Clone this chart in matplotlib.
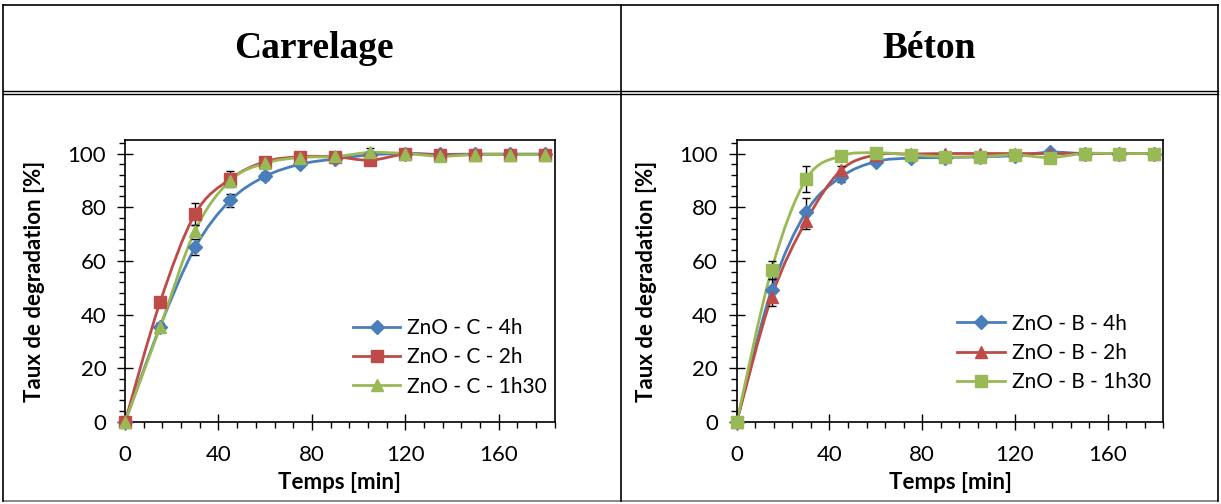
import numpy as np
import matplotlib.pyplot as plt
from matplotlib.path import Path
from matplotlib.patches import PathPatch
from matplotlib.lines import Line2D
from matplotlib.ticker import MultipleLocator

plt.rcParams['font.family'] = ['Lato', 'DejaVu Sans']

# Data
temps = [0, 15, 30, 45, 60, 75, 90, 105, 120, 135, 150, 165, 180]

carrelage_4h = [0, 35.5, 65, 82.5, 91.5, 96, 98, 99.5, 100, 99.7, 99.8, 99.8, 99.8]
carrelage_2h = [0, 44.6, 77.5, 90.5, 97, 98.8, 98.8, 97.5, 99.8, 99.5, 99.6, 99.6, 99.6]
carrelage_1h30 = [0, 35.3, 71.3, 89.9, 96.4, 98.5, 98.9, 100.4, 100, 99, 99.6, 99.6, 99.6]
carrelage_4h_err = [0, 1.5, 3, 2.5, 1.5, 1, 1, 0.5, 0.5, 0.5, 0.5, 0.5, 0.5]
carrelage_2h_err = [0, 1, 4, 3, 1, 1, 1, 1, 0.5, 0.5, 0.5, 0.5, 0.5]
carrelage_1h30_err = [0, 1.5, 2, 2, 1, 1, 1, 1.5, 0.5, 0.5, 0.5, 0.5, 0.5]

beton_4h = [0, 49.2, 78.3, 91.3, 97, 98.3, 98.5, 98.8, 99.2, 100.5, 100, 100, 100]
beton_2h = [0, 46.5, 75, 93.8, 99.5, 99.8, 100, 100, 100, 100, 100, 100, 100]
beton_1h30 = [0, 56.6, 90.5, 99.1, 100.3, 99.5, 98.8, 98.8, 99.5, 98.5, 100, 100, 100]
beton_4h_err = [0, 4, 5, 2, 1, 1, 1, 1, 1, 1, 0.5, 0.5, 0.5]
beton_2h_err = [0, 3.5, 3, 1.5, 0.5, 0.5, 0.5, 0.5, 0.5, 0.5, 0.5, 0.5, 0.5]
beton_1h30_err = [0, 3.5, 5, 1, 1, 1, 1, 1, 1, 1, 0.5, 0.5, 0.5]

blue = '#4A7EBB'
red = '#BE4B48'
green = '#98B954'


def smooth_path(x, y):
    # Excel-like smoothed line (Catmull-Rom as cubic Bezier)
    pts = np.column_stack([x, y]).astype(float)
    ext = np.vstack([pts[0], pts, pts[-1]])
    verts = [pts[0]]
    codes = [Path.MOVETO]
    for i in range(len(pts) - 1):
        p0, p1, p2, p3 = ext[i], ext[i + 1], ext[i + 2], ext[i + 3]
        verts += [p1 + (p2 - p0) / 6, p2 - (p3 - p1) / 6, p2]
        codes += [Path.CURVE4] * 3
    return Path(verts, codes)


def draw_panel(ax, series, legend_anchor):
    handles = []
    for y, err, color, marker, ms, label in series:
        ax.add_patch(PathPatch(smooth_path(temps, y), fill=False,
                               edgecolor=color, lw=2.0, zorder=2,
                               clip_on=False))
        ax.errorbar(temps, y, yerr=err, fmt='none', ecolor='black',
                    elinewidth=1, capsize=3, capthick=1, zorder=3,
                    clip_on=False)
        ax.plot(temps, y, linestyle='none', marker=marker, ms=ms,
                color=color, zorder=4, clip_on=False)
        handles.append(Line2D([], [], color=color, lw=2.0, marker=marker,
                              ms=ms, label=label))
    ax.set_xlim(0, 184)
    ax.set_ylim(0, 105)
    ax.xaxis.set_major_locator(MultipleLocator(40))
    ax.xaxis.set_minor_locator(MultipleLocator(8))
    ax.yaxis.set_major_locator(MultipleLocator(20))
    ax.yaxis.set_minor_locator(MultipleLocator(4))
    ax.tick_params(which='major', direction='inout', length=11, width=1,
                   labelsize=16)
    ax.tick_params(which='minor', direction='out', length=4, width=1)
    ax.tick_params(axis='x', which='major', pad=11)
    ax.tick_params(axis='y', which='major', pad=8)
    for s in ax.spines.values():
        s.set_linewidth(1.2)
    ax.set_xlabel('Temps [min]', fontsize=16, fontweight='bold', labelpad=5)
    ax.set_ylabel('Taux de degradation [%]', fontsize=16, fontweight='bold',
                  labelpad=16)
    ax.legend(handles=handles, loc='lower right', bbox_to_anchor=legend_anchor,
              frameon=False, fontsize=15, handlelength=2.3, handletextpad=0.3,
              labelspacing=0.45, borderaxespad=0)


fig = plt.figure(figsize=(12.21, 5.04), dpi=100)

ax1 = fig.add_axes([0.1024, 0.163, 0.352, 0.559])
draw_panel(ax1, [
    (carrelage_4h, carrelage_4h_err, blue, 'D', 7, 'ZnO - C - 4h'),
    (carrelage_2h, carrelage_2h_err, red, 's', 9, 'ZnO - C - 2h'),
    (carrelage_1h30, carrelage_1h30_err, green, '^', 9, 'ZnO - C - 1h30'),
], (1.0, 0.06))

ax2 = fig.add_axes([0.6034, 0.163, 0.3494, 0.559])
draw_panel(ax2, [
    (beton_4h, beton_4h_err, blue, 'D', 7, 'ZnO - B - 4h'),
    (beton_2h, beton_2h_err, red, '^', 9, 'ZnO - B - 2h'),
    (beton_1h30, beton_1h30_err, green, 's', 9, 'ZnO - B - 1h30'),
], (0.99, 0.075))

# Table frame
W, H = 1221, 504


def hline(y, x0=3, x1=1218, color='black', lw=1.2):
    fig.add_artist(Line2D([x0 / W, x1 / W], [1 - y / H, 1 - y / H],
                          color=color, lw=lw))


def vline(x, y0=5, y1=501, color='black', lw=1.2):
    fig.add_artist(Line2D([x / W, x / W], [1 - y0 / H, 1 - y1 / H],
                          color=color, lw=lw))


hline(5)
hline(90.5, lw=1.0)
hline(93.5, lw=1.0)
hline(501, color='#777777')
vline(3)
vline(1218)
vline(621)

fig.text(314 / W, 1 - 49 / H, 'Carrelage', ha='center', va='center',
         family='Liberation Serif', fontweight='bold', fontsize=27)
fig.text(929 / W, 1 - 49 / H, 'Béton', ha='center', va='center',
         family='Liberation Serif', fontweight='bold', fontsize=27)

fig.savefig('out.png', dpi=100)
